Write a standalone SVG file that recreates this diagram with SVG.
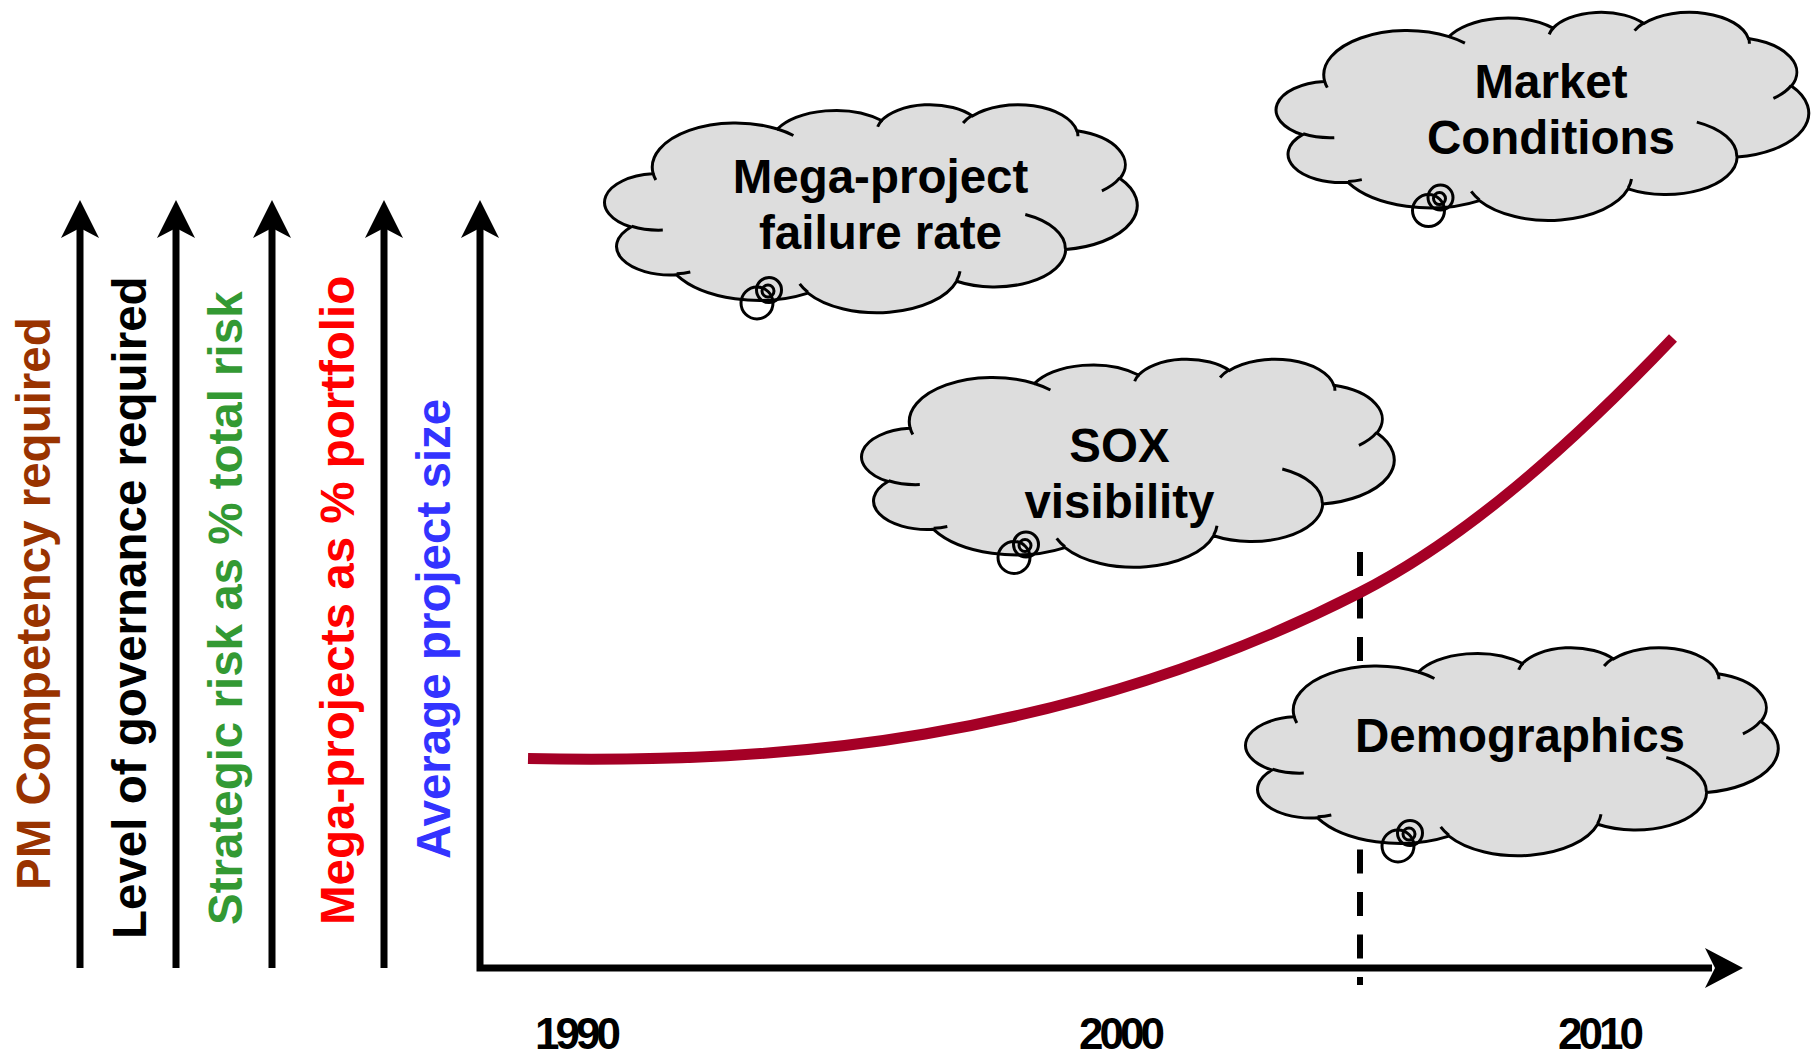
<svg xmlns="http://www.w3.org/2000/svg" xmlns:xlink="http://www.w3.org/1999/xlink" width="1813" height="1055" viewBox="0 0 1813 1055">
  <style>
    text { font-family: "Liberation Sans", Arial, Helvetica, sans-serif; font-weight: bold; }
    .lbl { font-size: 47.5px; }
    .cloud-text { font-size: 47.5px; fill: #000000; text-anchor: middle; }
    .year { font-size: 44px; fill: #000000; text-anchor: middle; }
    .cloud { fill: #DDDDDD; stroke: #000000; stroke-width: 3; vector-effect: non-scaling-stroke; }
    .crease { fill: none; stroke: #000000; stroke-width: 3; vector-effect: non-scaling-stroke; }
    .bubble { fill: none; stroke: #000000; stroke-width: 3; }
    .axis { fill: none; stroke: #000000; stroke-width: 7; }
    .head { fill: #000000; stroke: none; }
    .trend { fill: none; stroke: #A50026; stroke-width: 11; }
    .marker-line { fill: none; stroke: #000000; stroke-width: 6; stroke-dasharray: 24 18.5; }
  </style>
  <defs>
    <!-- cloud outline in a 432 x 432 box, stretched to 532 x 208 -->
    <path id="cloudBody" class="cloud" transform="scale(1.23148 0.481481)"
      d="M39,143.7 A67.53,91.9 0 0 1 140.05,52.02 A53.33,72.67 0 0 1 224.56,34.32 A43.65,59.45 0 0 1 298.33,24.8 A48.57,65.95 0 0 1 383.18,55.76 A53.33,72.73 0 0 1 418.18,154.6 A67.75,92.2 0 0 1 374.05,302.04 A57.85,78.67 0 0 1 285.56,368.14 A67.52,92.15 0 0 1 164.81,392.66 A77.2,105.43 0 0 1 58.05,354.72 A43.6,59.18 0 0 1 21.13,255.51 A43.45,59.45 0 0 1 38.63,145.07 Z"/>
    <!-- inner creases between the puffs -->
    <path id="cloudCreases" class="crease" transform="scale(1.23148 0.481481)"
      d="M46.93,261.77 A43.45,59.45 0 0 1 21.6,253.8 M69.28,348.99 A43.6,59.18 0 0 1 58.2,352.8 M164.78,390.9 A67.52,92.15 0 0 1 158.1,373.48 M288.27,347.51 A67.52,92.15 0 0 1 285.6,366.6 M341.29,229.54 A57.85,78.67 0 0 1 373.81,300.9 M417.98,153.54 A53.33,72.73 0 0 1 403.5,180.3 M383.24,54.26 A48.57,65.95 0 0 1 384.01,66.9 M290.78,39.52 A48.57,65.95 0 0 1 298.2,23.41 M221.41,47.2 A43.65,59.45 0 0 1 225,33.31 M140,51.92 A67.53,91.9 0 0 1 153,65.4 M41.27,157.89 A67.53,91.9 0 0 1 39,143.71"/>
    <!-- thought bubbles below the cloud -->
    <g id="cloudBubbles">
      <circle class="bubble" cx="152" cy="199" r="16"/>
      <circle class="bubble" cx="164" cy="186" r="12.5"/>
      <circle class="bubble" cx="163" cy="187" r="6"/>
    </g>
  </defs>

  <!-- vertical scale arrows -->
  <g id="axes">
    <path class="axis" d="M80,226 V968"/>
    <path class="head" d="M80,200 L99,238 L80,228 L61,238 Z"/>
    <path class="axis" d="M176,226 V968"/>
    <path class="head" d="M176,200 L195,238 L176,228 L157,238 Z"/>
    <path class="axis" d="M272,226 V968"/>
    <path class="head" d="M272,200 L291,238 L272,228 L253,238 Z"/>
    <path class="axis" d="M384,226 V968"/>
    <path class="head" d="M384,200 L403,238 L384,228 L365,238 Z"/>
    <path class="axis" d="M480,226 V968 H1712"/>
    <path class="head" d="M480,200 L499,238 L480,228 L461,238 Z"/>
    <path class="head" d="M1743,968 L1705,948 L1715,968 L1705,988 Z"/>
  </g>

  <!-- axis titles -->
  <g id="axis-labels" class="lbl">
    <text transform="translate(50,890) rotate(-90)" fill="#993300">PM Competency required</text>
    <text transform="translate(146,939) rotate(-90)" fill="#000000">Level of governance required</text>
    <text transform="translate(242,925) rotate(-90)" fill="#339933">Strategic risk as % total risk</text>
    <text transform="translate(354,925) rotate(-90)" fill="#FF0000">Mega-projects as % portfolio</text>
    <text transform="translate(450,859) rotate(-90)" fill="#3333FF">Average project size</text>
  </g>

  <!-- time axis ticks -->
  <g id="years">
    <text class="year" x="578" y="1049" textLength="86" lengthAdjust="spacing">1990</text>
    <text class="year" x="1122" y="1049" textLength="86" lengthAdjust="spacing">2000</text>
    <text class="year" x="1601" y="1049" textLength="86" lengthAdjust="spacing">2010</text>
  </g>

  <!-- trend line and present-day marker -->
  <g id="connectors">
    <path class="marker-line" d="M1360,552 V985"/>
    <path class="trend" d="M528,758.5 C660.3,761.1 792.7,756.5 925,734 C1070,709.4 1215,666.5 1360,592.5 C1464.3,539.3 1568.7,447.5 1673,338"/>
  </g>

  <g id="cloud-mega-project" transform="translate(605,104)">
    <use xlink:href="#cloudBody"/>
    <use xlink:href="#cloudCreases"/>
    <use xlink:href="#cloudBubbles"/>
    <text class="cloud-text" x="275.5" y="89">Mega-project</text>
    <text class="cloud-text" x="275.5" y="144.5">failure rate</text>
  </g>

  <g id="cloud-market" transform="translate(1276.5,11.6)">
    <use xlink:href="#cloudBody"/>
    <use xlink:href="#cloudCreases"/>
    <use xlink:href="#cloudBubbles"/>
    <text class="cloud-text" x="274.5" y="86.4">Market</text>
    <text class="cloud-text" x="274.5" y="142.4">Conditions</text>
  </g>

  <g id="cloud-sox" transform="translate(862,358.5)">
    <use xlink:href="#cloudBody"/>
    <use xlink:href="#cloudCreases"/>
    <use xlink:href="#cloudBubbles"/>
    <text class="cloud-text" x="257.5" y="103">SOX</text>
    <text class="cloud-text" x="257.5" y="159">visibility</text>
  </g>

  <g id="cloud-demographics" transform="translate(1246,647)">
    <use xlink:href="#cloudBody"/>
    <use xlink:href="#cloudCreases"/>
    <use xlink:href="#cloudBubbles"/>
    <text class="cloud-text" x="274" y="104.5">Demographics</text>
  </g>
</svg>
